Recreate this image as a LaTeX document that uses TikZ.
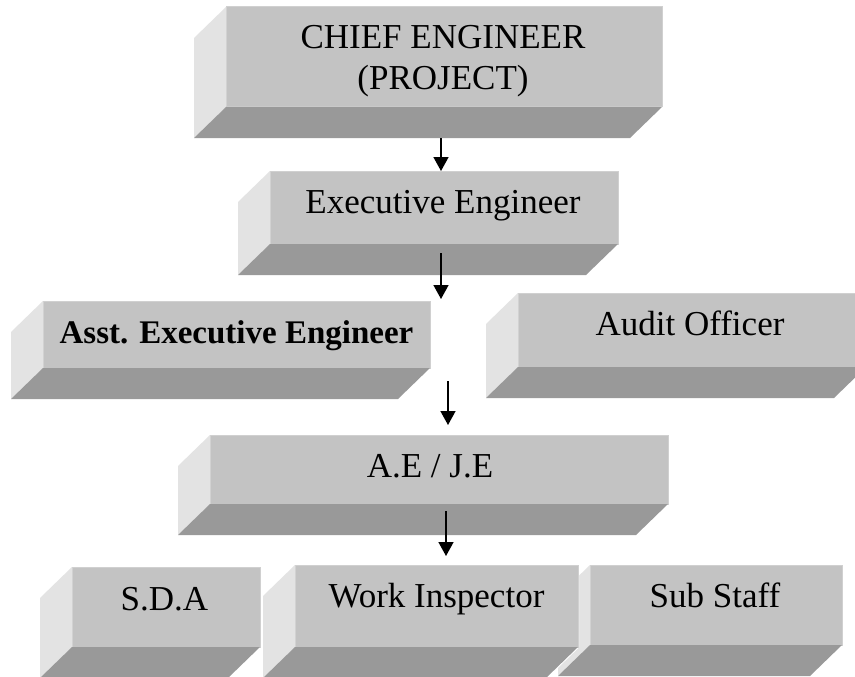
\documentclass[tikz,border=0pt]{standalone}
\usepackage{fontspec}
\setmainfont{Liberation Serif}
\usetikzlibrary{arrows.meta}

\definecolor{facegray}{HTML}{C3C3C3}
\definecolor{rimgray}{HTML}{D0D0D0}
\definecolor{sidegray}{HTML}{E3E3E3}
\definecolor{floorgray}{HTML}{999999}

\tikzset{
  face/.style={draw=rimgray, line width=1pt, fill=facegray, inner sep=0pt, outer sep=0pt},
  sidepanel/.style={fill=sidegray},
  floorpanel/.style={fill=floorgray},
  gapline/.style={draw=white, line width=2pt, fill=white},
  txt/.style={font=\fontsize{35}{40}\selectfont, inner sep=0pt, anchor=base},
  boldtxt/.style={txt, font=\bfseries\fontsize{33}{40}\selectfont},
  arr/.style={-{Triangle[length=14pt,width=15pt]}, line width=1.6pt},
}

% bevelled box: name, left, top, right, bottom (front face); depth goes down-left
\newcommand\bevelbox[5]{%
  \path[gapline] (#2,#3) -- (#4,#3) -- (#4,#5) -- (#4-32,#5+31) -- (#2-32,#5+31) -- (#2-32,#3+31) -- cycle;
  \node[face, minimum width={#4-#2}, minimum height={#5-#3}] (#1) at ({(#2+#4)/2},{(#3+#5)/2}) {};
  \fill[sidepanel] (#1.north west) -- ++(-32,31) -- ([shift={(-32,31)}]#1.south west) -- (#1.south west) -- cycle;
  \fill[floorpanel] (#1.south west) -- (#1.south east) -- ++(-32,31) -- ([shift={(-32,31)}]#1.south west) -- cycle;
}

\begin{document}
\begin{tikzpicture}[x=1pt,y=-1pt]
  \useasboundingbox (0,0) rectangle (855,677);
  \clip (0,0) rectangle (855,677);

  \bevelbox{chief}{226}{7}{662}{107}
  \bevelbox{exec}{270}{171}{618}{244}
  \bevelbox{asst}{43}{301}{430}{368}
  \bevelbox{audit}{518}{293}{866}{367}
  \bevelbox{aeje}{210}{435}{668}{504}
  \bevelbox{sda}{72}{567}{260}{647}
  \bevelbox{sub}{590}{565}{842}{645}
  \bevelbox{wi}{295}{565}{578}{647}

  \node[txt] (chief-l1) at (443,49) {CHIEF ENGINEER};
  \node[txt] (chief-l2) at (443,90) {(PROJECT)};
  \node[txt] (exec-t) at (443,213) {Executive Engineer};
  \node[boldtxt] (asst-t) at (236.5,343) {Asst. Executive Engineer};
  \node[txt] (audit-t) at (690,335) {Audit Officer};
  \node[txt] (aeje-t) at (430,477) {A.E / J.E};
  \node[txt] (sda-t) at (164.5,610) {S.D.A};
  \node[txt] (wi-t) at (436.5,607) {Work Inspector};
  \node[txt] (sub-t) at (715,607) {Sub Staff};

  % reporting arrows
  \coordinate (a1) at (441,138);
  \draw[arr] (a1) -- (a1 |- exec.north);
  \coordinate (a2s) at (441,253);
  \coordinate (a2e) at (441,299);
  \draw[arr] (a2s) -- (a2e);
  \coordinate (a3s) at (448,381);
  \coordinate (a3e) at (448,425);
  \draw[arr] (a3s) -- (a3e);
  \coordinate (a4s) at (446,511);
  \coordinate (a4e) at (446,556);
  \draw[arr] (a4s) -- (a4e);
\end{tikzpicture}
\end{document}
